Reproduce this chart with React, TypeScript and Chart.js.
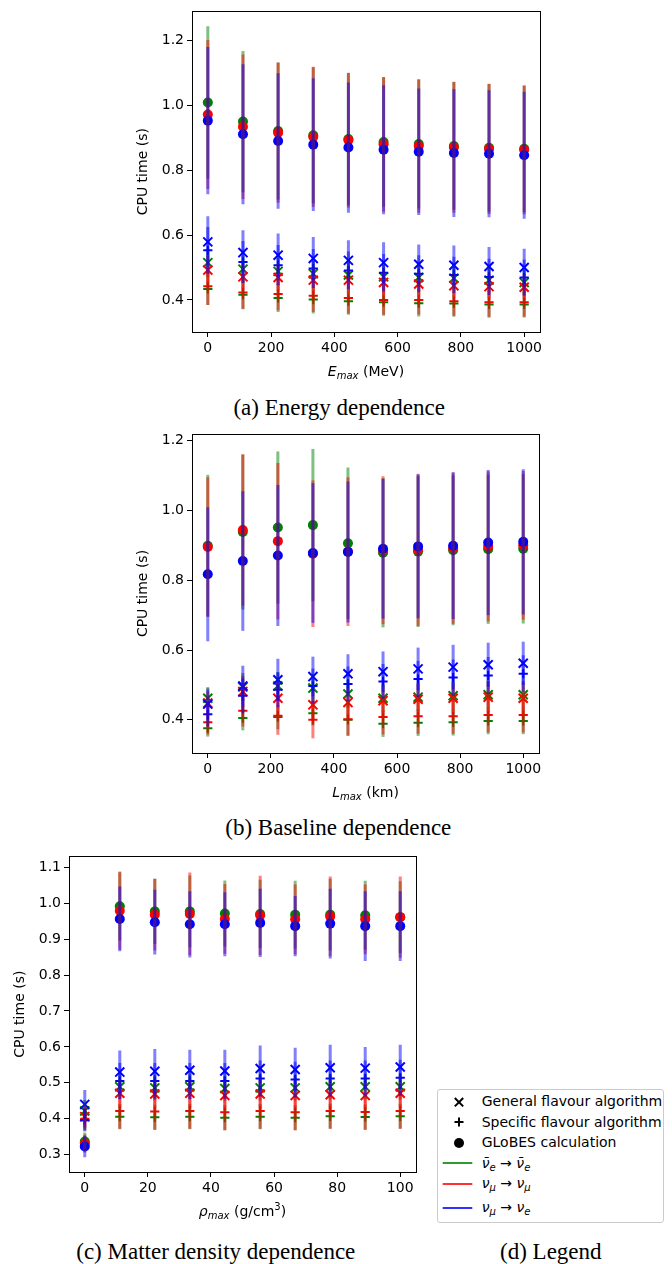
import React, { useEffect, useRef, useState } from "react";
import { Chart, registerables } from "chart.js";

Chart.register(...registerables);

// ---------- data ----------
const ENERGY_X = [0, 111.1, 222.2, 333.3, 444.4, 555.6, 666.7, 777.8, 888.9, 1000];
const ENERGY_GLOBES_EE = [1.009, 0.95, 0.921, 0.908, 0.896, 0.887, 0.881, 0.875, 0.869, 0.866];
const ENERGY_GLOBES_EE_ERR = [0.235, 0.218, 0.211, 0.21, 0.204, 0.2, 0.199, 0.197, 0.197, 0.195];
const ENERGY_GLOBES_MM = [0.972, 0.934, 0.916, 0.903, 0.893, 0.88, 0.875, 0.871, 0.866, 0.863];
const ENERGY_GLOBES_MM_ERR = [0.23, 0.223, 0.216, 0.216, 0.208, 0.208, 0.206, 0.202, 0.201, 0.199];
const ENERGY_GLOBES_ME = [0.953, 0.911, 0.89, 0.879, 0.87, 0.863, 0.857, 0.853, 0.851, 0.846];
const ENERGY_GLOBES_ME_ERR = [0.227, 0.216, 0.209, 0.205, 0.201, 0.199, 0.195, 0.197, 0.196, 0.196];
const ENERGY_GEN_EE = [0.515, 0.495, 0.488, 0.481, 0.477, 0.471, 0.469, 0.467, 0.461, 0.454];
const ENERGY_GEN_EE_ERR = [0.045, 0.042, 0.041, 0.04, 0.04, 0.039, 0.039, 0.038, 0.038, 0.038];
const ENERGY_GEN_MM = [0.492, 0.471, 0.469, 0.461, 0.461, 0.454, 0.449, 0.444, 0.441, 0.439];
const ENERGY_GEN_MM_ERR = [0.045, 0.043, 0.042, 0.041, 0.041, 0.04, 0.04, 0.039, 0.039, 0.039];
const ENERGY_GEN_ME = [0.579, 0.546, 0.538, 0.528, 0.522, 0.515, 0.51, 0.507, 0.503, 0.5];
const ENERGY_GEN_ME_ERR = [0.079, 0.069, 0.067, 0.066, 0.062, 0.063, 0.061, 0.061, 0.06, 0.058];
const ENERGY_SPEC_EE = [0.434, 0.416, 0.406, 0.401, 0.396, 0.393, 0.39, 0.389, 0.386, 0.386];
const ENERGY_SPEC_EE_ERR = [0.05, 0.045, 0.043, 0.043, 0.042, 0.042, 0.041, 0.041, 0.041, 0.04];
const ENERGY_SPEC_MM = [0.442, 0.423, 0.418, 0.413, 0.406, 0.4, 0.4, 0.396, 0.393, 0.393];
const ENERGY_SPEC_MM_ERR = [0.058, 0.05, 0.05, 0.05, 0.048, 0.046, 0.045, 0.045, 0.045, 0.045];
const ENERGY_SPEC_ME = [0.553, 0.517, 0.507, 0.497, 0.491, 0.484, 0.481, 0.477, 0.471, 0.469];
const ENERGY_SPEC_ME_ERR = [0.072, 0.065, 0.062, 0.06, 0.058, 0.058, 0.057, 0.056, 0.056, 0.056];

const BASELINE_X = [0, 111.1, 222.2, 333.3, 444.4, 555.6, 666.7, 777.8, 888.9, 1000];
const BASELINE_GLOBES_EE = [0.899, 0.938, 0.951, 0.958, 0.906, 0.879, 0.882, 0.886, 0.889, 0.89];
const BASELINE_GLOBES_EE_ERR = [0.203, 0.222, 0.218, 0.218, 0.217, 0.214, 0.216, 0.215, 0.214, 0.214];
const BASELINE_GLOBES_MM = [0.895, 0.944, 0.912, 0.876, 0.882, 0.886, 0.887, 0.892, 0.897, 0.9];
const BASELINE_GLOBES_MM_ERR = [0.2, 0.217, 0.224, 0.21, 0.213, 0.212, 0.218, 0.217, 0.215, 0.213];
const BASELINE_GLOBES_ME = [0.817, 0.855, 0.871, 0.878, 0.881, 0.89, 0.897, 0.899, 0.908, 0.91];
const BASELINE_GLOBES_ME_ERR = [0.192, 0.2, 0.202, 0.2, 0.202, 0.2, 0.206, 0.21, 0.208, 0.208];
const BASELINE_GEN_EE = [0.462, 0.494, 0.497, 0.491, 0.474, 0.462, 0.465, 0.469, 0.472, 0.472];
const BASELINE_GEN_EE_ERR = [0.032, 0.04, 0.04, 0.04, 0.04, 0.04, 0.04, 0.04, 0.04, 0.04];
const BASELINE_GEN_MM = [0.448, 0.481, 0.462, 0.443, 0.45, 0.455, 0.459, 0.462, 0.465, 0.462];
const BASELINE_GEN_MM_ERR = [0.035, 0.045, 0.048, 0.045, 0.045, 0.045, 0.045, 0.045, 0.045, 0.045];
const BASELINE_GEN_ME = [0.445, 0.497, 0.515, 0.524, 0.532, 0.538, 0.546, 0.551, 0.558, 0.562];
const BASELINE_GEN_ME_ERR = [0.045, 0.058, 0.06, 0.057, 0.056, 0.058, 0.061, 0.064, 0.063, 0.062];
const BASELINE_SPEC_EE = [0.376, 0.405, 0.408, 0.419, 0.4, 0.389, 0.392, 0.393, 0.397, 0.397];
const BASELINE_SPEC_EE_ERR = [0.024, 0.035, 0.035, 0.035, 0.045, 0.038, 0.038, 0.038, 0.038, 0.038];
const BASELINE_SPEC_MM = [0.393, 0.426, 0.412, 0.4, 0.402, 0.408, 0.41, 0.41, 0.414, 0.414];
const BASELINE_SPEC_MM_ERR = [0.035, 0.045, 0.055, 0.053, 0.048, 0.05, 0.05, 0.05, 0.05, 0.05];
const BASELINE_SPEC_ME = [0.416, 0.469, 0.486, 0.497, 0.503, 0.51, 0.517, 0.521, 0.527, 0.532];
const BASELINE_SPEC_ME_ERR = [0.035, 0.05, 0.05, 0.05, 0.05, 0.05, 0.052, 0.052, 0.053, 0.053];

const DENSITY_X = [0, 11.1, 22.2, 33.3, 44.4, 55.6, 66.7, 77.8, 88.9, 100];
const DENSITY_GLOBES_EE = [0.337, 0.991, 0.977, 0.977, 0.971, 0.97, 0.968, 0.968, 0.966, 0.961];
const DENSITY_GLOBES_EE_ERR = [0.025, 0.095, 0.091, 0.1, 0.092, 0.095, 0.094, 0.1, 0.096, 0.1];
const DENSITY_GLOBES_MM = [0.331, 0.979, 0.968, 0.97, 0.956, 0.966, 0.955, 0.963, 0.955, 0.961];
const DENSITY_GLOBES_MM_ERR = [0.025, 0.109, 0.1, 0.115, 0.097, 0.11, 0.097, 0.111, 0.097, 0.113];
const DENSITY_GLOBES_ME = [0.323, 0.956, 0.947, 0.941, 0.941, 0.945, 0.936, 0.943, 0.936, 0.936];
const DENSITY_GLOBES_ME_ERR = [0.03, 0.09, 0.09, 0.092, 0.089, 0.095, 0.084, 0.097, 0.097, 0.097];
const DENSITY_GEN_EE = [0.422, 0.489, 0.486, 0.489, 0.484, 0.486, 0.486, 0.489, 0.489, 0.489];
const DENSITY_GEN_EE_ERR = [0.03, 0.035, 0.035, 0.035, 0.035, 0.035, 0.035, 0.035, 0.035, 0.035];
const DENSITY_GEN_MM = [0.406, 0.471, 0.469, 0.471, 0.465, 0.469, 0.465, 0.467, 0.465, 0.471];
const DENSITY_GEN_MM_ERR = [0.03, 0.04, 0.04, 0.04, 0.04, 0.04, 0.04, 0.04, 0.04, 0.04];
const DENSITY_GEN_ME = [0.44, 0.53, 0.532, 0.535, 0.533, 0.54, 0.537, 0.542, 0.541, 0.544];
const DENSITY_GEN_ME_ERR = [0.04, 0.06, 0.062, 0.057, 0.059, 0.064, 0.061, 0.064, 0.059, 0.062];
const DENSITY_SPEC_EE = [0.395, 0.406, 0.404, 0.406, 0.403, 0.406, 0.403, 0.407, 0.405, 0.407];
const DENSITY_SPEC_EE_ERR = [0.03, 0.035, 0.035, 0.035, 0.035, 0.035, 0.035, 0.035, 0.035, 0.035];
const DENSITY_SPEC_MM = [0.4, 0.422, 0.42, 0.422, 0.418, 0.422, 0.418, 0.422, 0.419, 0.422];
const DENSITY_SPEC_MM_ERR = [0.03, 0.05, 0.05, 0.05, 0.05, 0.05, 0.05, 0.05, 0.05, 0.05];
const DENSITY_SPEC_ME = [0.397, 0.505, 0.505, 0.505, 0.505, 0.512, 0.509, 0.512, 0.512, 0.514];
const DENSITY_SPEC_ME_ERR = [0.03, 0.05, 0.05, 0.05, 0.05, 0.05, 0.05, 0.05, 0.05, 0.05];

const KM_X_TICKS = [0, 200, 400, 600, 800, 1000];
const DENSITY_X_TICKS = [0, 20, 40, 60, 80, 100];
const ENERGY_Y_TICKS = [0.4, 0.6, 0.8, 1.0, 1.2];
const BASELINE_Y_TICKS = [0.4, 0.6, 0.8, 1.0, 1.2];
const DENSITY_Y_TICKS = [0.3, 0.4, 0.5, 0.6, 0.7, 0.8, 0.9, 1.0, 1.1];

// ---------- styling ----------
const M = 8; // body margin: all positions below are page coordinates
const FONT = "'DejaVu Sans', sans-serif";
const FLAVOURS = [
  { color: "#008000", bar: "rgba(0,128,0,0.5)", rank: 2 },
  { color: "#ff0000", bar: "rgba(255,0,0,0.5)", rank: 1 },
  { color: "#0000ff", bar: "rgba(0,0,255,0.5)", rank: 0 },
];
const KINDS = [
  { style: "crossRot", radius: 6.4, border: 2 },
  { style: "cross", radius: 4.6, border: 2 },
  { style: "circle", radius: 5, border: 0 },
];

type Seg = { t: string; it?: boolean; sub?: boolean; sup?: boolean };

const frameAndTitle = {
  id: "frameAndTitle",
  afterDraw(chart: any) {
    const { ctx, chartArea: a } = chart;
    const segs: Seg[] = chart.$segments || [];
    ctx.save();
    ctx.strokeStyle = "#000";
    ctx.lineWidth = 1;
    const l = Math.round(a.left), t = Math.round(a.top), r = Math.round(a.right), b = Math.round(a.bottom);
    ctx.strokeRect(l + 0.5, t + 0.5, r - l, b - t);
    const fontOf = (s: Seg) => `${s.it ? "italic " : ""}${s.sub || s.sup ? 10 : 14}px ${FONT}`;
    let total = 0;
    const widths = segs.map((s) => {
      ctx.font = fontOf(s);
      const w = ctx.measureText(s.t).width;
      total += w;
      return w;
    });
    let x = (a.left + a.right) / 2 - total / 2;
    const base = a.bottom + 44;
    ctx.fillStyle = "#000";
    ctx.textBaseline = "alphabetic";
    ctx.textAlign = "left";
    segs.forEach((s, i) => {
      ctx.font = fontOf(s);
      const dy = s.sub ? 3 : s.sup ? -6 : 0;
      ctx.fillText(s.t, x, base + dy);
      x += widths[i];
    });
    ctx.restore();
  },
};

type PanelSpec = {
  xs: number[];
  groups: number[][][][];
  xMin: number; xMax: number; yMin: number; yMax: number;
  xTicks: number[]; yTicks: number[];
  yWidth: number; xHeight: number;
  pad: { top: number; right: number; left: number };
  yTitlePad: number;
  segments: Seg[];
};

function buildConfig(p: PanelSpec): any {
  const datasets: any[] = [];
  FLAVOURS.forEach((f, fi) => {
    KINDS.forEach((k, ki) => {
      const vals = p.groups[fi][ki][0];
      const errs = p.groups[fi][ki][1];
      datasets.push({
        type: "scatter",
        data: p.xs.map((x, i) => ({ x, y: vals[i] })),
        pointStyle: k.style,
        pointRadius: k.radius,
        pointBorderWidth: k.border,
        pointBackgroundColor: f.color,
        pointBorderColor: f.color,
        backgroundColor: f.color,
        borderColor: f.color,
        showLine: false,
        order: 10 + f.rank,
      });
      datasets.push({
        type: "bar",
        data: p.xs.map((x, i) => ({ x, y: [vals[i] - errs[i], vals[i] + errs[i]] })),
        backgroundColor: f.bar,
        borderWidth: 0,
        grouped: false,
        maxBarThickness: 3,
        order: f.rank,
      });
    });
  });
  const tickFont = { family: FONT, size: 14 };
  return {
    type: "scatter",
    data: { datasets },
    plugins: [frameAndTitle],
    options: {
      responsive: false,
      animation: false,
      devicePixelRatio: 1,
      events: [],
      layout: { padding: { left: p.pad.left, right: p.pad.right, top: p.pad.top, bottom: 0 } },
      plugins: {
        legend: { display: false },
        tooltip: { enabled: false },
      },
      scales: {
        x: {
          type: "linear",
          min: p.xMin,
          max: p.xMax,
          offset: false,
          grid: { display: true, offset: false, drawOnChartArea: false, drawTicks: true, tickLength: 5, color: "#000", lineWidth: 1 },
          border: { display: true, color: "#000", width: 1 },
          ticks: { font: tickFont, color: "#000", padding: 3, maxRotation: 0, minRotation: 0, autoSkip: false, callback: (v: any) => String(v) },
          afterBuildTicks: (s: any) => { s.ticks = p.xTicks.map((v) => ({ value: v })); },
          afterFit: (s: any) => { s.height = p.xHeight; },
        },
        y: {
          type: "linear",
          min: p.yMin,
          max: p.yMax,
          grid: { display: true, offset: false, drawOnChartArea: false, drawTicks: true, tickLength: 5, color: "#000", lineWidth: 1 },
          border: { display: true, color: "#000", width: 1 },
          ticks: { font: tickFont, color: "#000", padding: 3, callback: (v: any) => Number(v).toFixed(1) },
          title: { display: true, text: "CPU time (s)", font: tickFont, color: "#000", padding: { top: p.yTitlePad, bottom: 0 } },
          afterBuildTicks: (s: any) => { s.ticks = p.yTicks.map((v) => ({ value: v })); },
          afterFit: (s: any) => { s.width = p.yWidth; },
        },
      },
    },
  };
}

class Boundary extends React.Component<any, any> {
  constructor(props: any) {
    super(props);
    this.state = { err: null };
  }
  static getDerivedStateFromError(err: any) {
    return { err };
  }
  render() {
    if (this.state.err) return <div style={{ color: "red", fontSize: 12 }}>{String(this.state.err && this.state.err.stack)}</div>;
    return this.props.children;
  }
}

function Panel({ left, top, width, height, spec }: { left: number; top: number; width: number; height: number; spec: PanelSpec }) {
  const ref = useRef<HTMLCanvasElement>(null);
  const [err, setErr] = useState("");
  useEffect(() => {
    let chart: any = null;
    try {
      chart = new Chart(ref.current as HTMLCanvasElement, buildConfig(spec));
      chart.$segments = spec.segments;
      chart.draw();
    } catch (e: any) {
      setErr(String(e && e.stack ? e.stack : e));
    }
    return () => { if (chart) chart.destroy(); };
  }, []);
  return (
    <div style={{ position: "absolute", left: left - M, top: top - M, width, height }}>
      <canvas ref={ref} width={width} height={height} style={{ display: "block" }} />
      {err ? <div style={{ position: "absolute", left: 0, top: 0, fontSize: 10, color: "red", width: 400 }}>{err}</div> : null}
    </div>
  );
}

const energySpec: PanelSpec = {
  xs: ENERGY_X,
  groups: [
    [[ENERGY_GEN_EE, ENERGY_GEN_EE_ERR], [ENERGY_SPEC_EE, ENERGY_SPEC_EE_ERR], [ENERGY_GLOBES_EE, ENERGY_GLOBES_EE_ERR]],
    [[ENERGY_GEN_MM, ENERGY_GEN_MM_ERR], [ENERGY_SPEC_MM, ENERGY_SPEC_MM_ERR], [ENERGY_GLOBES_MM, ENERGY_GLOBES_MM_ERR]],
    [[ENERGY_GEN_ME, ENERGY_GEN_ME_ERR], [ENERGY_SPEC_ME, ENERGY_SPEC_ME_ERR], [ENERGY_GLOBES_ME, ENERGY_GLOBES_ME_ERR]],
  ],
  xMin: -50, xMax: 1050, yMin: 0.301, yMax: 1.29,
  xTicks: KM_X_TICKS, yTicks: ENERGY_Y_TICKS,
  yWidth: 72, xHeight: 58,
  pad: { top: 8, right: 10, left: 0 },
  yTitlePad: 15,
  segments: [{ t: "E", it: true }, { t: "max", it: true, sub: true }, { t: " (MeV)" }],
};

const baselineSpec: PanelSpec = {
  xs: BASELINE_X,
  groups: [
    [[BASELINE_GEN_EE, BASELINE_GEN_EE_ERR], [BASELINE_SPEC_EE, BASELINE_SPEC_EE_ERR], [BASELINE_GLOBES_EE, BASELINE_GLOBES_EE_ERR]],
    [[BASELINE_GEN_MM, BASELINE_GEN_MM_ERR], [BASELINE_SPEC_MM, BASELINE_SPEC_MM_ERR], [BASELINE_GLOBES_MM, BASELINE_GLOBES_MM_ERR]],
    [[BASELINE_GEN_ME, BASELINE_GEN_ME_ERR], [BASELINE_SPEC_ME, BASELINE_SPEC_ME_ERR], [BASELINE_GLOBES_ME, BASELINE_GLOBES_ME_ERR]],
  ],
  xMin: -50, xMax: 1050, yMin: 0.305, yMax: 1.219,
  xTicks: KM_X_TICKS, yTicks: BASELINE_Y_TICKS,
  yWidth: 72, xHeight: 57,
  pad: { top: 14, right: 11, left: 0 },
  yTitlePad: 15,
  segments: [{ t: "L", it: true }, { t: "max", it: true, sub: true }, { t: " (km)" }],
};

const densitySpec: PanelSpec = {
  xs: DENSITY_X,
  groups: [
    [[DENSITY_GEN_EE, DENSITY_GEN_EE_ERR], [DENSITY_SPEC_EE, DENSITY_SPEC_EE_ERR], [DENSITY_GLOBES_EE, DENSITY_GLOBES_EE_ERR]],
    [[DENSITY_GEN_MM, DENSITY_GEN_MM_ERR], [DENSITY_SPEC_MM, DENSITY_SPEC_MM_ERR], [DENSITY_GLOBES_MM, DENSITY_GLOBES_MM_ERR]],
    [[DENSITY_GEN_ME, DENSITY_GEN_ME_ERR], [DENSITY_SPEC_ME, DENSITY_SPEC_ME_ERR], [DENSITY_GLOBES_ME, DENSITY_GLOBES_ME_ERR]],
  ],
  xMin: -5, xMax: 105, yMin: 0.252, yMax: 1.13,
  xTicks: DENSITY_X_TICKS, yTicks: DENSITY_Y_TICKS,
  yWidth: 69, xHeight: 63,
  pad: { top: 10, right: 14, left: 0 },
  yTitlePad: 12,
  segments: [{ t: "ρ", it: true }, { t: "max", it: true, sub: true }, { t: " (g/cm" }, { t: "3", sup: true }, { t: ")" }],
};

function captionStyle(cx: number, baseline: number): any {
  return {
    position: "absolute",
    left: cx - 200 - M,
    top: baseline - 18.3 - M,
    width: 400,
    textAlign: "center",
    fontFamily: "'Liberation Serif', 'Times New Roman', serif",
    fontSize: 23,
    lineHeight: "21px",
    color: "#000",
    whiteSpace: "nowrap",
  };
}

const subStyle: any = { fontSize: 10, position: "relative", top: 3, fontStyle: "italic" };

function Handle({ kind, color }: { kind: string; color?: string }) {
  return (
    <svg width={34} height={14} style={{ position: "absolute", left: 3, top: 1.5 }}>
      {kind === "x" ? (
        <g stroke="#000" strokeWidth={2}>
          <line x1={13.8} y1={3} x2={22.2} y2={11.4} />
          <line x1={22.2} y1={3} x2={13.8} y2={11.4} />
        </g>
      ) : null}
      {kind === "+" ? (
        <g stroke="#000" strokeWidth={2}>
          <line x1={13.5} y1={7} x2={22.5} y2={7} />
          <line x1={18} y1={2.5} x2={18} y2={11.5} />
        </g>
      ) : null}
      {kind === "o" ? <circle cx={18} cy={7} r={5} fill="#000" /> : null}
      {kind === "line" ? <line x1={1.7} y1={7} x2={31.3} y2={7} stroke={color} strokeWidth={2} opacity={0.8} /> : null}
    </svg>
  );
}

const LEGEND_ROWS = [1101.7, 1122.3, 1142.7, 1163.3, 1183.7, 1207.5];
const LEGEND_LEFT = 437;
const LEGEND_TOP = 1089;

function LegendRow({ i, handle, children }: { i: number; handle: any; children: any }) {
  return (
    <div style={{ position: "absolute", left: 0, top: LEGEND_ROWS[i] - LEGEND_TOP - 1 - 8.5, width: 225, height: 17 }}>
      {handle}
      <div style={{ position: "absolute", left: 481.7 - LEGEND_LEFT - 1, top: 0, lineHeight: "17px", whiteSpace: "nowrap" }}>{children}</div>
    </div>
  );
}

function Legend() {
  return (
    <div
      style={{
        position: "absolute",
        left: LEGEND_LEFT - M,
        top: LEGEND_TOP - M,
        width: 227,
        height: 134,
        boxSizing: "border-box",
        border: "1px solid #cccccc",
        borderRadius: 3,
        background: "#fff",
        fontFamily: FONT,
        fontSize: 14,
        color: "#000",
      }}
    >
      <LegendRow i={0} handle={<Handle kind="x" />}>General flavour algorithm</LegendRow>
      <LegendRow i={1} handle={<Handle kind="+" />}>Specific flavour algorithm</LegendRow>
      <LegendRow i={2} handle={<Handle kind="o" />}>GLoBES calculation</LegendRow>
      <LegendRow i={3} handle={<Handle kind="line" color="#008000" />}>
        <i>{"\u03BD\u0304"}</i><span style={subStyle}>e</span>{" \u2192 "}<i>{"\u03BD\u0304"}</i><span style={subStyle}>e</span>
      </LegendRow>
      <LegendRow i={4} handle={<Handle kind="line" color="#ff0000" />}>
        <i>{"\u03BD"}</i><span style={subStyle}>{"\u03BC"}</span>{" \u2192 "}<i>{"\u03BD"}</i><span style={subStyle}>{"\u03BC"}</span>
      </LegendRow>
      <LegendRow i={5} handle={<Handle kind="line" color="#0000ff" />}>
        <i>{"\u03BD"}</i><span style={subStyle}>{"\u03BC"}</span>{" \u2192 "}<i>{"\u03BD"}</i><span style={subStyle}>e</span>
      </LegendRow>
    </div>
  );
}

export default function App() {
  useEffect(() => {
    document.documentElement.style.overflow = "hidden";
    document.body.style.overflow = "hidden";
  }, []);
  return (
    <Boundary>
      <div style={{ position: "relative", width: 656, height: 1256, overflow: "hidden" }}>
        <Panel left={120} top={0} width={430} height={390} spec={energySpec} />
        <div style={captionStyle(339.2, 415)}>(a) Energy dependence</div>
        <Panel left={120} top={420} width={430} height={390} spec={baselineSpec} />
        <div style={captionStyle(338.3, 835)}>(b) Baseline dependence</div>
        <Panel left={0} top={845} width={430} height={390} spec={densitySpec} />
        <div style={captionStyle(215.8, 1259.5)}>(c) Matter density dependence</div>
        <Legend />
        <div style={captionStyle(550.8, 1259.5)}>(d) Legend</div>
      </div>
    </Boundary>
  );
}
